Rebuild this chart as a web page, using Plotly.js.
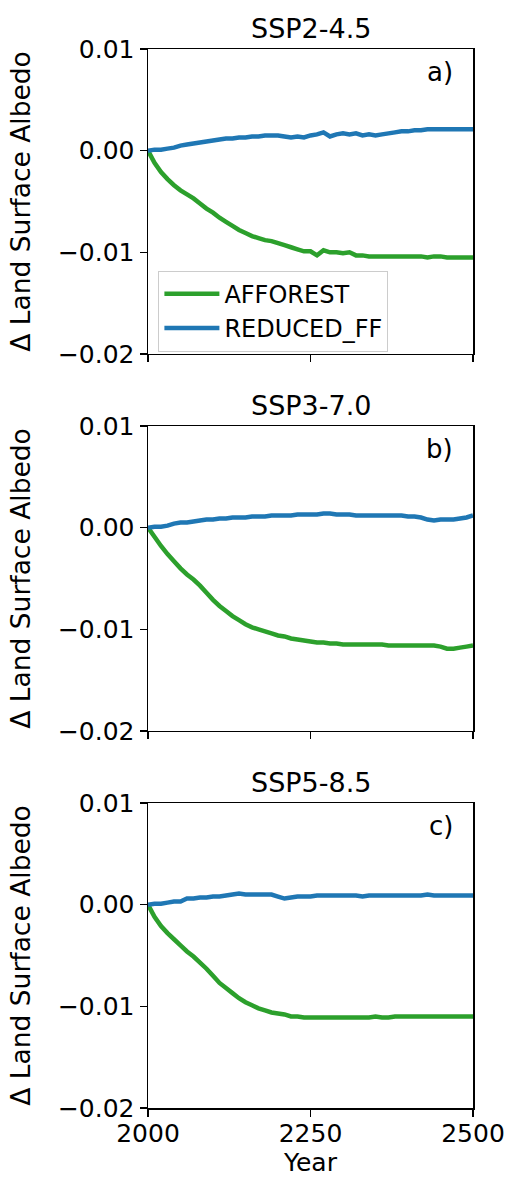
<!DOCTYPE html>
<html>
<head>
<meta charset="utf-8">
<script src="https://cdn.plot.ly/plotly-3.0.1.min.js"></script>
<style>
html,body{margin:0;padding:0;background:#fff;}
#chart{width:511px;height:1178px;}
</style>
</head>
<body>
<div id="chart"></div>
<script>
// ---- data ----
var years = [2000,2010,2020,2030,2040,2050,2060,2070,2080,2090,
             2100,2110,2120,2130,2140,2150,2160,2170,2180,2190,
             2200,2210,2220,2230,2240,2250,2260,2270,2280,2290,
             2300,2310,2320,2330,2340,2350,2360,2370,2380,2390,
             2400,2410,2420,2430,2440,2450,2460,2470,2480,2490,2500];

var scenarios = ["SSP2-4.5","SSP3-7.0","SSP5-8.5"];
var panelLabels = ["a)","b)","c)"];
var seriesNames = ["AFFOREST","REDUCED_FF"];

var ssp245_afforest = [0,-0.0012,-0.0021,-0.0028,-0.0034,-0.0039,-0.0043,-0.0047,-0.0052,-0.0057,
  -0.0061,-0.0066,-0.0070,-0.0074,-0.0078,-0.0081,-0.0084,-0.0086,-0.0088,-0.0089,
  -0.0091,-0.0093,-0.0095,-0.0097,-0.0099,-0.0099,-0.0103,-0.0098,-0.0100,-0.0100,
  -0.0101,-0.0100,-0.0103,-0.0103,-0.0104,-0.0104,-0.0104,-0.0104,-0.0104,-0.0104,
  -0.0104,-0.0104,-0.0104,-0.0105,-0.0104,-0.0104,-0.0105,-0.0105,-0.0105,-0.0105,-0.0105];
var ssp245_reduced = [0,0.0001,0.0001,0.0002,0.0003,0.0005,0.0006,0.0007,0.0008,0.0009,
  0.0010,0.0011,0.0012,0.0012,0.0013,0.0013,0.0014,0.0014,0.0015,0.0015,
  0.0015,0.0014,0.0013,0.0014,0.0013,0.0015,0.0016,0.0018,0.0014,0.0016,
  0.0017,0.0016,0.0017,0.0015,0.0016,0.0015,0.0016,0.0017,0.0018,0.0019,
  0.0019,0.0020,0.0020,0.0021,0.0021,0.0021,0.0021,0.0021,0.0021,0.0021,0.0021];

var ssp370_afforest = [0,-0.0009,-0.0018,-0.0026,-0.0033,-0.0040,-0.0046,-0.0051,-0.0057,-0.0064,
  -0.0071,-0.0077,-0.0082,-0.0087,-0.0091,-0.0095,-0.0098,-0.0100,-0.0102,-0.0104,
  -0.0106,-0.0107,-0.0109,-0.0110,-0.0111,-0.0112,-0.0113,-0.0113,-0.0114,-0.0114,
  -0.0115,-0.0115,-0.0115,-0.0115,-0.0115,-0.0115,-0.0115,-0.0116,-0.0116,-0.0116,
  -0.0116,-0.0116,-0.0116,-0.0116,-0.0116,-0.0117,-0.0119,-0.0119,-0.0118,-0.0117,-0.0116];
var ssp370_reduced = [0,0.0001,0.0001,0.0002,0.0004,0.0005,0.0005,0.0006,0.0007,0.0008,
  0.0008,0.0009,0.0009,0.0010,0.0010,0.0010,0.0011,0.0011,0.0011,0.0012,
  0.0012,0.0012,0.0012,0.0013,0.0013,0.0013,0.0013,0.0014,0.0014,0.0013,
  0.0013,0.0013,0.0012,0.0012,0.0012,0.0012,0.0012,0.0012,0.0012,0.0012,
  0.0011,0.0011,0.0010,0.0008,0.0007,0.0008,0.0008,0.0008,0.0009,0.0010,0.0012];

var ssp585_afforest = [0,-0.0012,-0.0021,-0.0028,-0.0034,-0.0040,-0.0046,-0.0051,-0.0057,-0.0063,
  -0.0070,-0.0077,-0.0082,-0.0087,-0.0092,-0.0096,-0.0099,-0.0102,-0.0104,-0.0106,
  -0.0107,-0.0108,-0.0110,-0.0110,-0.0111,-0.0111,-0.0111,-0.0111,-0.0111,-0.0111,
  -0.0111,-0.0111,-0.0111,-0.0111,-0.0111,-0.0110,-0.0111,-0.0111,-0.0110,-0.0110,
  -0.0110,-0.0110,-0.0110,-0.0110,-0.0110,-0.0110,-0.0110,-0.0110,-0.0110,-0.0110,-0.0110];
var ssp585_reduced = [0,0.0001,0.0001,0.0002,0.0003,0.0003,0.0006,0.0006,0.0007,0.0007,
  0.0008,0.0008,0.0009,0.0010,0.0011,0.0010,0.0010,0.0010,0.0010,0.0010,
  0.0008,0.0006,0.0007,0.0008,0.0008,0.0008,0.0009,0.0009,0.0009,0.0009,
  0.0009,0.0009,0.0009,0.0008,0.0009,0.0009,0.0009,0.0009,0.0009,0.0009,
  0.0009,0.0009,0.0009,0.0010,0.0009,0.0009,0.0009,0.0009,0.0009,0.0009,0.0009];

var xTicks = [2000,2250,2500];
var yTicks = [-0.02,-0.01,0.00,0.01];

// ---- build ----
var green = "#2ca02c", blue = "#1f77b4";
var afforest = [ssp245_afforest, ssp370_afforest, ssp585_afforest];
var reduced = [ssp245_reduced, ssp370_reduced, ssp585_reduced];
var FONT = "DejaVu Sans, sans-serif";

var traces = [];
for (var i = 0; i < 3; i++) {
  var xa = i === 0 ? "x" : "x" + (i + 1);
  var ya = i === 0 ? "y" : "y" + (i + 1);
  traces.push({x: years, y: afforest[i], xaxis: xa, yaxis: ya, mode: "lines",
    name: seriesNames[0], showlegend: i === 0, line: {color: green, width: 4.5, simplify: false}});
  traces.push({x: years, y: reduced[i], xaxis: xa, yaxis: ya, mode: "lines",
    name: seriesNames[1], showlegend: i === 0, line: {color: blue, width: 4.5, simplify: false}});
}

var domains = [[0.712, 1], [0.356, 0.644], [0, 0.288]];
var layout = {
  width: 511, height: 1178,
  margin: {l: 148, r: 38, t: 49, b: 70, pad: 0},
  paper_bgcolor: "#fff", plot_bgcolor: "#fff",
  font: {family: FONT, size: 25, color: "#000"},
  showlegend: true,
  legend: {x: 0.032, y: 0.7907, xanchor: "left", yanchor: "top",
    bgcolor: "rgba(255,255,255,0.9)", bordercolor: "#cccccc", borderwidth: 1,
    itemwidth: 55,
    font: {family: FONT, size: 24, color: "#000"}, tracegroupgap: 0},
  annotations: []
};

for (var j = 0; j < 3; j++) {
  var xk = j === 0 ? "xaxis" : "xaxis" + (j + 1);
  var yk = j === 0 ? "yaxis" : "yaxis" + (j + 1);
  var yname = j === 0 ? "y" : "y" + (j + 1);
  var xname = j === 0 ? "x" : "x" + (j + 1);
  layout[xk] = {
    anchor: yname, range: [2000, 2500], tickvals: xTicks, ticktext: xTicks.map(String),
    showticklabels: j === 2, ticks: "outside", ticklen: 7, tickwidth: 1.3, tickcolor: "#000",
    showline: true, linecolor: "#000", linewidth: 1.5, mirror: true,
    showgrid: false, zeroline: false, fixedrange: true, ticklabelstandoff: -5,
    tickfont: {family: FONT, size: 25, color: "#000"}
  };
  if (j === 2) layout[xk].title = {text: "Year", font: {family: FONT, size: 25, color: "#000"}, standoff: 2};
  if (j > 0) layout[xk].matches = "x";
  layout[yk] = {
    anchor: xname, domain: domains[j], range: [-0.02, 0.01], tickvals: yTicks,
    tickformat: ".2f", ticks: "outside", ticklen: 7, tickwidth: 1.3, tickcolor: "#000",
    showline: true, linecolor: "#000", linewidth: 1.5, mirror: true,
    showgrid: false, zeroline: false, fixedrange: true,
    tickfont: {family: FONT, size: 25, color: "#000"},
    title: {text: "Δ Land Surface Albedo", font: {family: FONT, size: 26.5, color: "#000"}, standoff: 19}
  };
  layout.annotations.push({text: scenarios[j], xref: xname + " domain", yref: yname + " domain",
    x: 0.5, y: 1, xanchor: "center", yanchor: "bottom", yshift: 3, showarrow: false,
    font: {family: FONT, size: 27, color: "#000"}});
  layout.annotations.push({text: panelLabels[j], xref: xname + " domain", yref: yname + " domain",
    x: 0.945, y: 0.926, xanchor: "right", yanchor: "middle", showarrow: false,
    font: {family: FONT, size: 26, color: "#000"}});
}

Plotly.newPlot("chart", traces, layout, {displayModeBar: false, staticPlot: true});
</script>
</body>
</html>
